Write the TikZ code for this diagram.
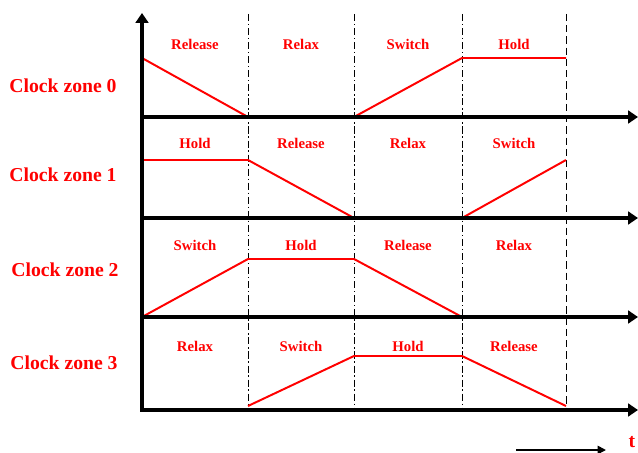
\documentclass[tikz,border=0pt]{standalone}
\usepackage{fontspec}
\setmainfont{Liberation Serif}
\usetikzlibrary{positioning, arrows.meta, calc}

\begin{document}
\begin{tikzpicture}[x=0.025cm, y=-0.025cm,
        axis/.style={line width=2.8pt, -{Triangle[length=7pt, width=9pt]}},
        wave/.style={red, line width=1.4pt},
        phaselab/.style={red, font=\fontsize{10.5}{12}\selectfont\bfseries},
        zonelab/.style={red, font=\fontsize{14}{16}\selectfont\bfseries}]
            \useasboundingbox (0,0) rectangle (638,453);
            % clock phase boundaries
            \foreach \x in {248,354,462}{
                \draw[line width=0.5pt, dash pattern=on 5pt off 2pt on 1pt off 2pt] (\x,14) -- (\x,410);
            }
            \draw[line width=0.5pt, dash pattern=on 5pt off 3pt] (566,14) -- (566,410);
            % zone 0
            \draw[wave] (142,58) -- (248,117);
            \draw[wave] (354,117) -- (462,58) -- (566,58);
            % zone 1
            \draw[wave] (142,160) -- (248,160) -- (354,218);
            \draw[wave] (462,218) -- (566,160);
            % zone 2
            \draw[wave] (142,317) -- (248,259) -- (354,259) -- (462,317);
            % zone 3
            \draw[wave] (248,406) -- (354,356) -- (462,356) -- (566,406);
            % axes
            \coordinate (origin) at (142,410);
            \coordinate (top) at (142,13);
            \draw[axis] ([yshift=-1.4pt]origin) -- (top);
            \foreach \y [count=\i] in {117,218,317,410}{
                \coordinate (base\i) at (142,\y);
                \coordinate (end\i) at (638,\y);
                \draw[axis] (base\i) -- (end\i);
            }
            % phase names
            \foreach \z/\y/\a/\b/\c/\d in {0/44/Release/Relax/Switch/Hold,
                                            1/143/Hold/Release/Relax/Switch,
                                            2/245/Switch/Hold/Release/Relax,
                                            3/346/Relax/Switch/Hold/Release}{
                \node[phaselab] (ph\z a) at (195,\y) {\a};
                \node[phaselab] (ph\z b) at (301,\y) {\b};
                \node[phaselab] (ph\z c) at (408,\y) {\c};
                \node[phaselab] (ph\z d) at (514,\y) {\d};
            }
            \node[zonelab] (zone0) at (63,86) {Clock zone 0};
            \node[zonelab] (zone1) at (63,175) {Clock zone 1};
            \node[zonelab] (zone2) at (65,270) {Clock zone 2};
            \node[zonelab] (zone3) at (64,363) {Clock zone 3};
            % time direction
            \node[red, font=\fontsize{14}{16}\selectfont\bfseries, inner sep=1pt] (tlab) at (632,442) {t};
            \coordinate (tstart) at (516,450);
            \coordinate (tend) at (606,450);
            \draw[line width=1.2pt, -{Triangle[length=6pt, width=6pt]}] (tstart) -- (tend);
\end{tikzpicture}
\end{document}
